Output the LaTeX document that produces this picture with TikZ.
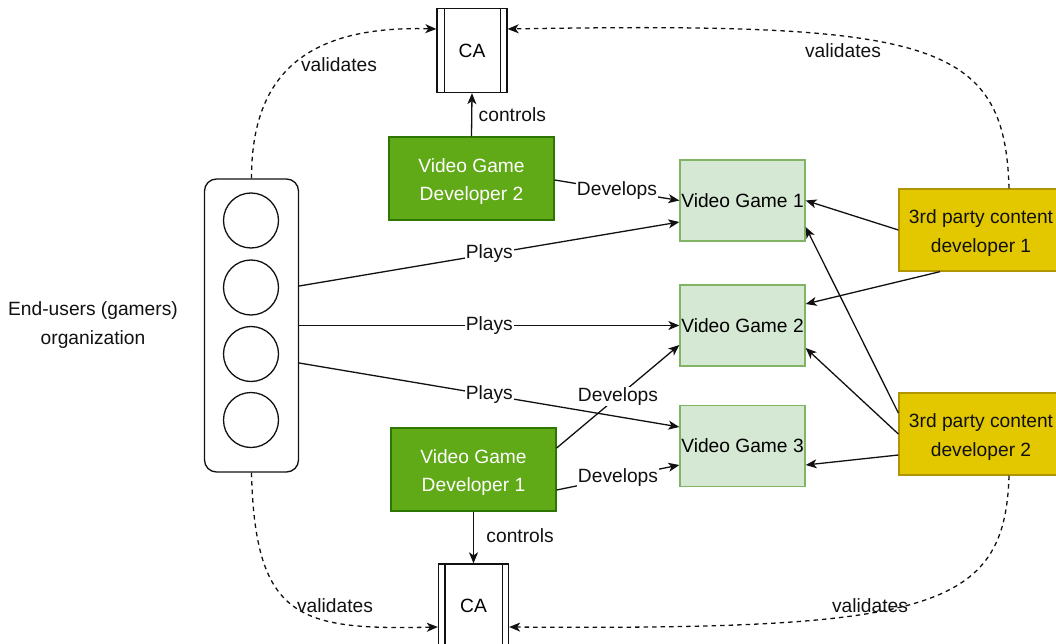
\documentclass[tikz,border=0pt]{standalone}
\usepackage{fontspec}
\setmainfont{Liberation Sans}
\usetikzlibrary{arrows.meta,calc}
\definecolor{devfill}{HTML}{60A917}
\definecolor{devline}{HTML}{2D7600}
\definecolor{gamefill}{HTML}{D5E8D4}
\definecolor{gameline}{HTML}{82B366}
\definecolor{tpfill}{HTML}{E3C800}
\definecolor{tpline}{HTML}{B09500}
\definecolor{ink}{HTML}{111111}
\tikzset{
  box/.style={draw, line width=1.3pt, inner sep=0pt, align=center},
  devbox/.style={box, fill=devfill, draw=devline, text=white, minimum width=165pt, minimum height=83pt},
  gamebox/.style={box, fill=gamefill, draw=gameline, minimum width=125pt, minimum height=81pt},
  tpbox/.style={box, fill=tpfill, draw=tpline, text=ink, minimum width=164pt, minimum height=82pt},
  cabox/.style={box, draw=ink, fill=white, minimum width=70pt, minimum height=84pt},
  arr/.style={draw=ink, line width=1.3pt, -{Stealth[length=11pt,width=9pt,inset=3pt]}},
  valarr/.style={arr, dash pattern=on 4.5pt off 4pt},
  lbl/.style={fill=white, inner sep=1pt, text=ink},
}
\begin{document}
\begin{tikzpicture}[x=1pt,y=-1pt,font=\fontsize{19.2}{28.5}\selectfont]
\useasboundingbox (0,0) rectangle (1056,644);
\clip (0,0) rectangle (1056,644);
\fill[white] (0,0) rectangle (1056,644);

% CA boxes
\node[cabox] (ca1) at (472,50.5) {CA};
\draw[ink,line width=1.3pt] ([xshift=8pt]ca1.north west) -- ([xshift=8pt]ca1.south west)
  ([xshift=-7pt]ca1.north east) -- ([xshift=-7pt]ca1.south east);
\node[cabox] (ca2) at (473.5,606) {CA};
\draw[ink,line width=1.3pt] ([xshift=7pt]ca2.north west) -- ([xshift=7pt]ca2.south west)
  ([xshift=-7pt]ca2.north east) -- ([xshift=-7pt]ca2.south east);

% developers
\node[devbox] (dev2) at (471.5,178.5) {\strut Video Game\\Developer 2};
\node[devbox] (dev1) at (473.5,469.5) {\strut Video Game\\Developer 1};

% games
\node[gamebox] (vg1) at (742.5,200.5) {Video Game 1};
\node[gamebox] (vg2) at (742.5,325.5) {Video Game 2};
\node[gamebox] (vg3) at (742.5,446) {Video Game 3};

% third party
\node[tpbox] (tp1) at (981,230) {\strut 3rd party content\\developer 1};
\node[tpbox] (tp2) at (981,434) {\strut 3rd party content\\developer 2};

% organization
\node[draw=ink, line width=1.3pt, rounded corners=12pt, minimum width=94pt, minimum height=293pt, inner sep=0pt] (org) at (251.5,325.5) {};
\foreach \i/\yy in {1/220.5,2/287.5,3/354,4/420}
  \node[draw=ink, line width=1.3pt, circle, minimum size=55pt, inner sep=0pt] (c\i) at (251,\yy) {};
\node[align=center, text=ink] (orglabel) at (93,322) {\strut End-users (gamers)\\organization};

% plays
\draw[arr] ([yshift=39.5pt]org.east) -- node[lbl,pos=0.5] {Plays} ([yshift=-21.5pt]vg1.west);
\draw[arr] (org.east) -- node[lbl,pos=0.5] {Plays} (vg2.west);
\draw[arr] ([yshift=-37.5pt]org.east) -- node[lbl,pos=0.5] {Plays} ([yshift=19pt]vg3.west);

% develops
\draw[arr] ([yshift=-1.5pt]dev2.east) -- node[lbl,pos=0.5] {Develops} (vg1.west);
\draw[arr] ([yshift=21.5pt]dev1.east) -- node[lbl,pos=0.5] {Develops} ([yshift=-19.5pt]vg2.west);
\draw[arr] ([yshift=-20.5pt]dev1.east) -- node[lbl,pos=0.5] {Develops} ([yshift=-19pt]vg3.west);

% controls
\draw[arr] (dev2.north) -- node[right, text=ink, pos=0.5, xshift=3pt] {controls} (ca1.south);
\draw[arr] (dev1.south) -- node[right, text=ink, pos=0.5, xshift=9pt, yshift=2pt] {controls} (ca2.north);

% third party contributions
\draw[arr] (tp1.west) -- (vg1.east);
\draw[arr] ([xshift=-41pt]tp1.south) -- ([yshift=21.5pt]vg2.east);
\draw[arr] ([yshift=21pt]tp2.west) -- ([yshift=-26.5pt]vg1.east);
\draw[arr] (tp2.west) -- ([yshift=-22.5pt]vg2.east);
\draw[arr] ([yshift=-21pt]tp2.west) -- ([yshift=-19pt]vg3.east);

% validates
\draw[valarr] (org.north) .. controls (251.5,80) and (300,25) .. ([yshift=21.5pt]ca1.west);
\node[text=ink] (v1) at (339,65) {validates};
\draw[valarr] ([xshift=28pt]tp1.north) .. controls (1005,40) and (930,22) .. ([yshift=21.5pt]ca1.east);
\node[text=ink] (v2) at (843,51) {validates};
\draw[valarr] (org.south) .. controls (255,620) and (300,630) .. ([yshift=-21pt]ca2.west);
\node[text=ink] (v3) at (335,606) {validates};
\draw[valarr] ([xshift=28pt]tp2.south) .. controls (1005,610) and (930,630) .. ([yshift=-21pt]ca2.east);
\node[text=ink] (v4) at (870,606) {validates};
\end{tikzpicture}
\end{document}
